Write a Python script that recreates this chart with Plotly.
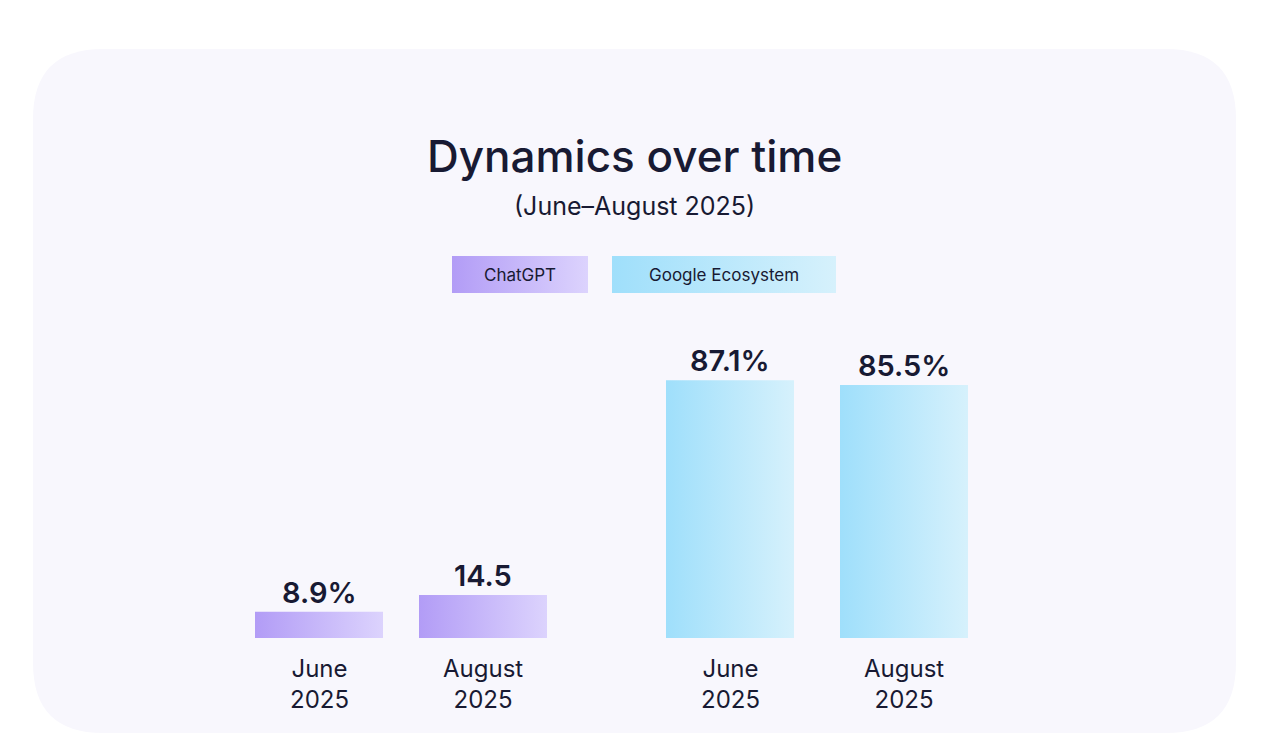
import plotly.graph_objects as go

W, H = 1269, 751

series = ["ChatGPT", "Google Ecosystem"]
months = ["June<br>2025", "August<br>2025"]
values = [[8.9, 14.5], [87.1, 85.5]]
value_labels = [["8.9%", "14.5"], ["87.1%", "85.5%"]]
colors = [["#b29cf6", "#dcd3fd"], ["#9fdffb", "#d6f1fc"]]

FONT = "Inter"
INK = "#181a33"
OFF = 8  # page body margin

# pixel geometry
base_px = 622
px_per_unit = 2.96
group_start = [319, 730]
step = [164, 174]
bar_w = 128


def X(p):
    return p - OFF


def Y(p):
    # pixel row -> data units
    return (base_px - p) / px_per_unit


fig = go.Figure()

# card background
x0, x1, y0, y1, r = X(33), X(1236), Y(33), Y(717), 70
ry = r / px_per_unit
path = (f"M {x0+r},{y0} L {x1-r},{y0} Q {x1},{y0} {x1},{y0-ry} "
        f"L {x1},{y1+ry} Q {x1},{y1} {x1-r},{y1} L {x0+r},{y1} "
        f"Q {x0},{y1} {x0},{y1+ry} L {x0},{y0-ry} Q {x0},{y0} {x0+r},{y0} Z")
fig.add_shape(type="path", path=path, xref="x", yref="y",
              fillcolor="#f8f7fd", line_width=0, layer="below")


def grad_rect(xa, xb, ya, yb, c):
    fig.add_trace(go.Scatter(
        x=[xa, xb, xb, xa, xa], y=[ya, ya, yb, yb, ya], mode="lines", line_width=0,
        fill="toself", fillgradient=dict(type="horizontal",
                                         colorscale=[[0, c[0]], [1, c[1]]]),
        hoverinfo="skip", showlegend=False))


for g, name in enumerate(series):
    for i, v in enumerate(values[g]):
        cx = X(group_start[g] + i * step[g])
        grad_rect(cx - bar_w / 2, cx + bar_w / 2, 0, v, colors[g])
        fig.add_annotation(x=cx, y=v, text=value_labels[g][i], showarrow=False,
                           yanchor="bottom", yshift=0,
                           font=dict(family=FONT, size=29, color=INK, weight=600))
        fig.add_annotation(x=cx, y=0, text=months[i], showarrow=False,
                           yanchor="top", yshift=-14,
                           font=dict(family=FONT, size=24, color=INK))

# legend boxes
legend_boxes = [(452, 588), (612, 836)]
for g, name in enumerate(series):
    lx0, lx1 = legend_boxes[g]
    grad_rect(X(lx0), X(lx1), Y(277), Y(240), colors[g])
    fig.add_annotation(x=X((lx0 + lx1) / 2), y=Y(259), text=name, showarrow=False,
                       yanchor="middle", font=dict(family=FONT, size=17, color=INK))

fig.add_annotation(x=X(634), y=Y(140), text="Dynamics over time", showarrow=False,
                   yanchor="middle", font=dict(family=FONT, size=44, color=INK, weight=500))
fig.add_annotation(x=X(634), y=Y(190), text="(June–August 2025)", showarrow=False,
                   yanchor="middle", font=dict(family=FONT, size=25, color=INK))

fig.update_layout(
    width=W, height=H, margin=dict(l=0, r=0, t=0, b=0),
    paper_bgcolor="white", plot_bgcolor="rgba(0,0,0,0)",
    xaxis=dict(range=[0, W], visible=False, fixedrange=True),
    yaxis=dict(range=[Y(H - OFF), Y(-OFF)], visible=False, fixedrange=True),
    showlegend=False,
)

fig.write_html("out.html", config={"displayModeBar": False})
